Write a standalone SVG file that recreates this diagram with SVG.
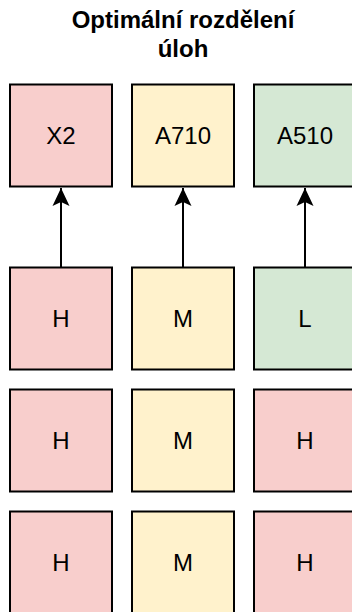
<svg xmlns="http://www.w3.org/2000/svg" width="352" height="612" viewBox="0 0 352 612">
<defs>
<style>
.b{stroke:#000;stroke-width:2}
.r{fill:#f8cecc}.y{fill:#fff2cc}.g{fill:#d5e8d4}
.t{font-family:"Liberation Sans",Arial,sans-serif;font-size:24px;fill:#000;text-anchor:middle;dominant-baseline:central}
.h{font-family:"Liberation Sans",Arial,sans-serif;font-size:24px;font-weight:bold;fill:#000;text-anchor:middle}
.c{stroke:#000;stroke-width:2;fill:none}
</style>
<marker id="ah" markerUnits="userSpaceOnUse" markerWidth="20" markerHeight="20" viewBox="0 0 20 20" refX="18" refY="10" orient="auto">
<path d="M18,10 L0,1.5 L4,10 L0,18.5 Z" fill="#000"/>
</marker>
</defs>
<g id="title">
<text class="h" x="183" y="28">Optimální rozdělení</text>
<text class="h" x="183" y="57">úloh</text>
</g>
<g id="connectors">
<path class="c" d="M61,267.5 L61,188" marker-end="url(#ah)"/>
<path class="c" d="M183,267.5 L183,188" marker-end="url(#ah)"/>
<path class="c" d="M305,267.5 L305,188" marker-end="url(#ah)"/>
</g>
<g id="x2"><rect class="b r" x="10" y="84.5" width="102" height="102"/><text class="t" x="61" y="135.5">X2</text></g>
<g id="a710"><rect class="b y" x="132" y="84.5" width="102" height="102"/><text class="t" x="183" y="135.5">A710</text></g>
<g id="a510"><rect class="b g" x="254" y="84.5" width="102" height="102"/><text class="t" x="305" y="135.5">A510</text></g>
<g id="h1"><rect class="b r" x="10" y="267.5" width="102" height="102"/><text class="t" x="61" y="318.5">H</text></g>
<g id="m1"><rect class="b y" x="132" y="267.5" width="102" height="102"/><text class="t" x="183" y="318.5">M</text></g>
<g id="l1"><rect class="b g" x="254" y="267.5" width="102" height="102"/><text class="t" x="305" y="318.5">L</text></g>
<g id="h2"><rect class="b r" x="10" y="389.5" width="102" height="102"/><text class="t" x="61" y="440.5">H</text></g>
<g id="m2"><rect class="b y" x="132" y="389.5" width="102" height="102"/><text class="t" x="183" y="440.5">M</text></g>
<g id="h3"><rect class="b r" x="254" y="389.5" width="102" height="102"/><text class="t" x="305" y="440.5">H</text></g>
<g id="h4"><rect class="b r" x="10" y="511.5" width="102" height="102"/><text class="t" x="61" y="562.5">H</text></g>
<g id="m3"><rect class="b y" x="132" y="511.5" width="102" height="102"/><text class="t" x="183" y="562.5">M</text></g>
<g id="h5"><rect class="b r" x="254" y="511.5" width="102" height="102"/><text class="t" x="305" y="562.5">H</text></g>
</svg>
